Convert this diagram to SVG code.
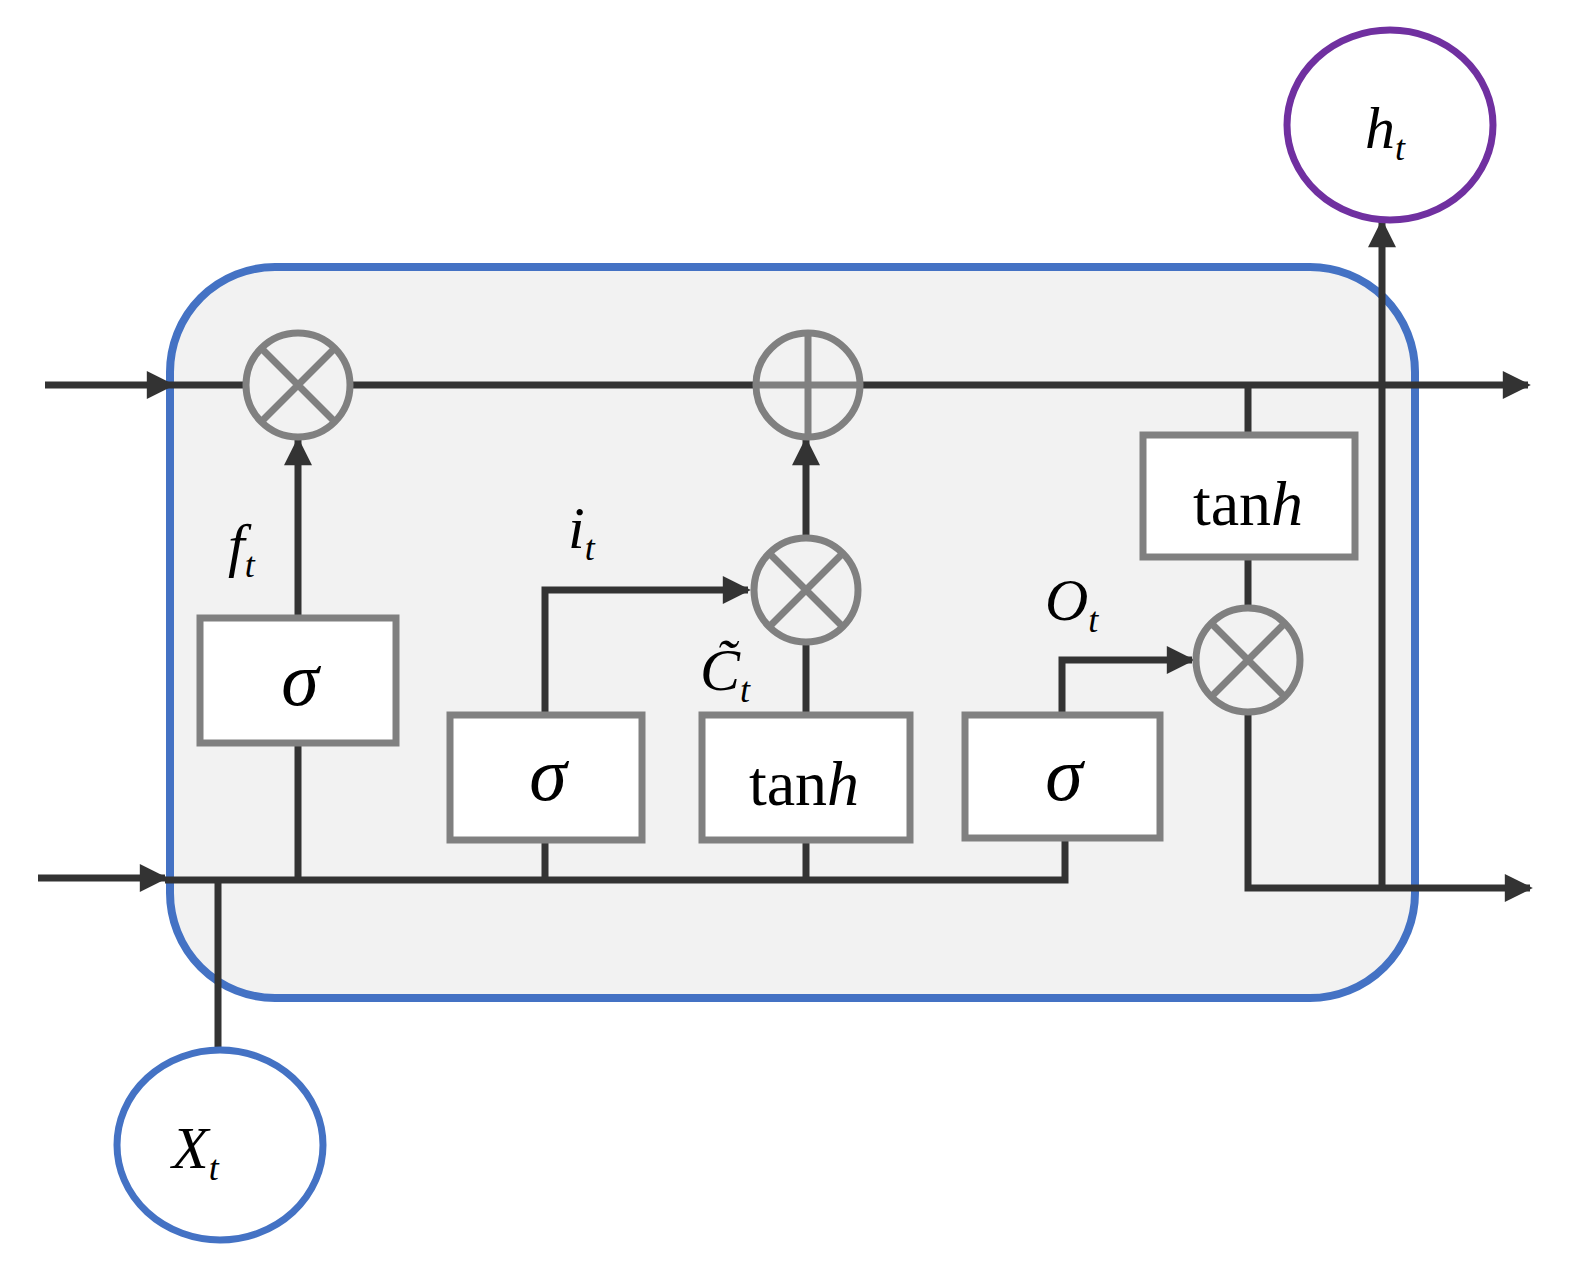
<svg xmlns="http://www.w3.org/2000/svg" width="1578" height="1278" viewBox="0 0 1578 1278">
<style>
.ln{stroke:#333;stroke-width:7;fill:none}
.op{stroke:#808080;stroke-width:7;fill:none}
.box{stroke:#808080;stroke-width:7;fill:#fff}
.t{font-family:"Liberation Serif",serif;fill:#000}
.i{font-style:italic}
</style>
<defs>
<marker id="A" viewBox="0 0 10 10" refX="9" refY="5" markerWidth="32" markerHeight="28" orient="auto" markerUnits="userSpaceOnUse"><path d="M0,0 L10,5 L0,10 Z" fill="#333"/></marker>
</defs>
<rect x="170" y="267" width="1245" height="731" rx="105" fill="#f2f2f2" stroke="#4472C4" stroke-width="8"/>
<g id="connectors">
<path class="ln" d="M45,385 H172" marker-end="url(#A)"/>
<path class="ln" d="M172,385 H246 M350,385 H756 M860,385 H1528" marker-end="url(#A)"/>
<path class="ln" d="M38,878 H165" marker-end="url(#A)"/>
<path class="ln" d="M165,880 H1065 V840"/>
<path class="ln" d="M218,880 V1050"/>
<path class="ln" d="M298,880 V743"/>
<path class="ln" d="M298,618 V440" marker-end="url(#A)"/>
<path class="ln" d="M545,880 V840"/>
<path class="ln" d="M545,715 V590 H748" marker-end="url(#A)"/>
<path class="ln" d="M806,880 V840 M806,715 V642"/>
<path class="ln" d="M806,538 V440" marker-end="url(#A)"/>
<path class="ln" d="M1062,715 V660 H1192" marker-end="url(#A)"/>
<path class="ln" d="M1248,385 V435 M1248,557 V608"/>
<path class="ln" d="M1248,712 V888 H1530" marker-end="url(#A)"/>
<path class="ln" d="M1382,888 V222" marker-end="url(#A)"/>
</g>
<g id="mul1"><circle class="op" cx="298" cy="385" r="52"/><path class="op" d="M261,348 L335,422 M335,348 L261,422"/></g>
<g id="add"><circle class="op" cx="808" cy="385" r="52"/><path class="op" d="M808,333 V437 M756,385 H860"/></g>
<g id="mul2"><circle class="op" cx="806" cy="590" r="52"/><path class="op" d="M769,553 L843,627 M843,553 L769,627"/></g>
<g id="mul3"><circle class="op" cx="1248" cy="660" r="52"/><path class="op" d="M1211,623 L1285,697 M1285,623 L1211,697"/></g>
<g id="sig1"><rect class="box" x="200" y="618" width="196" height="125"/><text class="t i" x="300" y="705" font-size="76" text-anchor="middle">σ</text></g>
<g id="sig2"><rect class="box" x="450" y="715" width="192" height="125"/><text class="t i" x="548" y="800" font-size="76" text-anchor="middle">σ</text></g>
<g id="tanh1"><rect class="box" x="702" y="715" width="208" height="125"/><text class="t" x="804" y="805" font-size="64" text-anchor="middle">tan<tspan class="i">h</tspan></text></g>
<g id="sig3"><rect class="box" x="965" y="715" width="195" height="123"/><text class="t i" x="1064" y="800" font-size="76" text-anchor="middle">σ</text></g>
<g id="tanh2"><rect class="box" x="1143" y="435" width="212" height="122"/><text class="t" x="1248" y="525" font-size="64" text-anchor="middle">tan<tspan class="i">h</tspan></text></g>
<g id="labels">
<text class="t i" x="228" y="565" font-size="60">f<tspan font-size="36" dy="12">t</tspan></text>
<text class="t i" x="568" y="548" font-size="60">i<tspan font-size="36" dy="12">t</tspan></text>
<text class="t i" x="700" y="690" font-size="60">C̃<tspan font-size="36" dy="12">t</tspan></text>
<text class="t i" x="1045" y="620" font-size="60">O<tspan font-size="36" dy="12">t</tspan></text>
</g>
<g id="ht"><ellipse cx="1390" cy="125" rx="103" ry="95" fill="#fff" stroke="#7030A0" stroke-width="7"/><text class="t i" x="1365" y="148" font-size="60">h<tspan font-size="36" dy="12">t</tspan></text></g>
<g id="xt"><ellipse cx="220" cy="1145" rx="103" ry="95" fill="#fff" stroke="#4472C4" stroke-width="7"/><text class="t i" x="172" y="1168" font-size="60">X<tspan font-size="36" dy="12">t</tspan></text></g>
</svg>
